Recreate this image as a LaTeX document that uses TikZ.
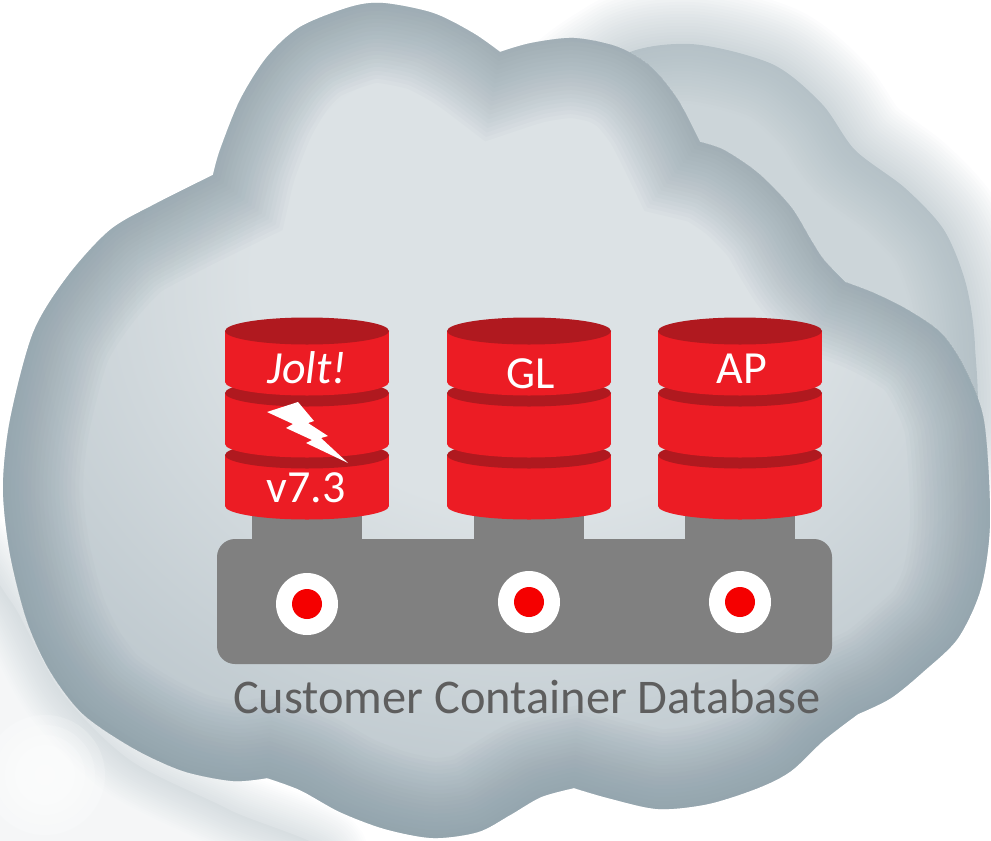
\documentclass[tikz,border=0pt]{standalone}
\usepackage{fontspec}
\setmainfont{Carlito}

\definecolor{dbred}{HTML}{EC1C24}
\definecolor{dbtop}{HTML}{B0191F}
\definecolor{basegray}{HTML}{808080}
\definecolor{portred}{HTML}{F50000}
\definecolor{captiongray}{HTML}{5E5E5E}
\definecolor{cloudlight}{HTML}{DCE2E5}
\definecolor{cloudmid}{HTML}{BAC5CB}
\definecolor{cloudedge}{HTML}{8397A1}
\definecolor{cloudhaze}{HTML}{9AABB3}

\pgfdeclareradialshading{cloudshade}{\pgfpoint{2bp}{10bp}}{color(0bp)=(cloudlight); color(14bp)=(cloudlight); color(32bp)=(cloudmid); color(48bp)=(cloudedge); color(100bp)=(cloudedge)}

\newcommand\cloudoutline{%
  plot[smooth] coordinates {(213,175) (157,203) (110,230) (67,277) (33,333) (10,420) (3,488) (10,554) (27,621) (50,671) (83,714) (133,748) (183,771) (233,781) (267,778)}
  -- plot[smooth] coordinates {(267,778) (300,790) (340,812) (385,829) (433,838) (478,832) (510,815) (541,797) (574,788)}
  -- plot[smooth] coordinates {(574,788) (608,798) (658,809) (708,804) (758,788) (791,771) (824,740) (858,714)}
  -- plot[smooth] coordinates {(858,714) (891,698) (924,671) (958,638) (981,588) (990,521) (984,421) (964,367) (941,333) (908,310) (874,293) (845,282)}
  -- plot[smooth] coordinates {(845,282) (824,260) (811,240) (791,207) (758,173) (724,150) (700,142)}
  -- plot[smooth] coordinates {(700,142) (678,100) (651,67) (618,47) (574,38) (531,43) (500,52)}
  -- plot[smooth] coordinates {(500,52) (473,33) (433,13) (383,3) (350,7) (300,27) (267,57) (240,100) (220,150) (213,175)}
  -- cycle}

\newcommand\hazeoutline{%
  plot[smooth cycle] coordinates {(560,130) (618,58) (690,44) (772,64) (822,104) (855,150) (905,188) (944,230) (966,284) (975,346) (972,430) (900,450) (700,300)}}

\newcommand\mistoutline{%
  plot[smooth cycle] coordinates {(-40,560) (10,600) (60,690) (130,760) (230,810) (320,860) (-40,880)}}

\begin{document}
\begin{tikzpicture}
  [x=0.5pt,y=-0.5pt,
   disk/.style={fill=dbred},
   disktop/.style={fill=dbtop},
   stem/.style={fill=basegray},
   dblabel/.style={text=white,anchor=base,inner sep=0pt,font=\fontsize{23}{27}\selectfont},
   blur/.style={line join=round,opacity=.03}]
  \useasboundingbox (0,0) rectangle (991,841);

  \fill[cloudhaze,opacity=.5] \hazeoutline;
  \foreach \w in {3,6,...,60}
    \draw[blur,cloudhaze,line width=\w pt] \hazeoutline;

  \fill[cloudhaze,opacity=.1] \mistoutline;
  \foreach \w in {2,4,...,40}
    \draw[blur,cloudhaze,opacity=.02,line width=\w pt] \mistoutline;
  \foreach \r in {10,20,...,60}
    \fill[white,opacity=.18] (45,775) circle[radius=\r];

  \shade[shading=cloudshade] \cloudoutline;
  \begin{scope}
    \clip \cloudoutline;
    \foreach \w in {4,8,...,80}
      \draw[cloudedge,opacity=.045,line width=\w pt] \cloudoutline;
  \end{scope}

  \foreach \cx in {307,529,740}
    \fill[stem] (\cx-55,480) rectangle (\cx+55,545);
  \fill[stem,rounded corners=9pt] (217,539) rectangle (832,664);
  \foreach \cx/\cy in {307/604,529/602,740/602} {
    \fill[white] (\cx,\cy) circle[radius=31];
    \fill[portred] (\cx,\cy) circle[radius=15];
  }

  \foreach \cx in {307,529,740}
    \foreach \yt in {455,393,331} {
      \fill[disk] (\cx-82,\yt) rectangle (\cx+82,\yt+51);
      \fill[disk] (\cx,\yt+51) ellipse[x radius=82,y radius=13.5];
      \fill[disktop] (\cx,\yt) ellipse[x radius=82,y radius=13.5];
    }

  \node[dblabel,font=\fontsize{23}{27}\selectfont\itshape] (jolt) at (307,383) {Jolt!};
  \node[dblabel] (version) at (306,502) {v7.3};
  \node[dblabel] (gl) at (531,388) {GL};
  \node[dblabel] (ap) at (742,383) {AP};

  \fill[white] (267,412) -- (298,402) -- (314,421) -- (308,423) -- (328,436) -- (321,438)
    -- (348,463) -- (306,443) -- (312,440) -- (286,428) -- (293,424) -- cycle;

  \node[text=captiongray,anchor=base,inner sep=0pt,font=\fontsize{24.2}{29}\selectfont]
    (caption) at (527,713) {Customer Container Database};
\end{tikzpicture}
\end{document}
